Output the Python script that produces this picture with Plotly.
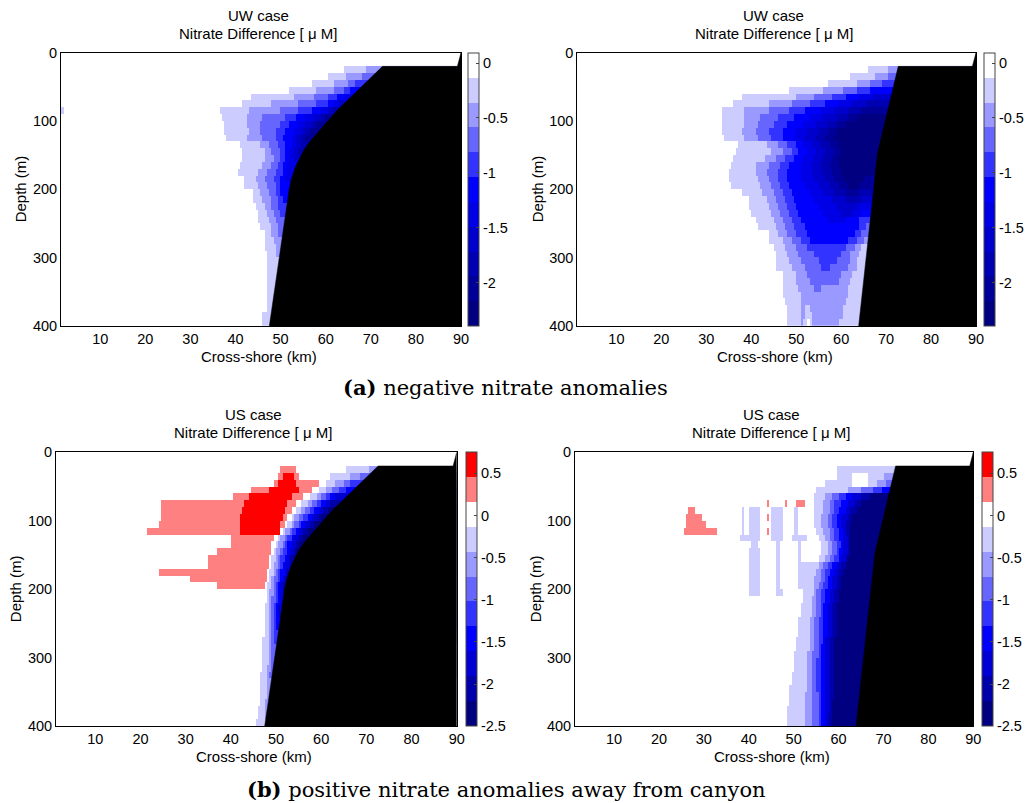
import numpy as np
import plotly.graph_objects as go

# ---------------- grid ----------------
X_CENTERS = np.arange(1.25, 90.0, 0.5)      # km
DEPTH_CENTERS = np.arange(5, 400, 10)       # m

# ---------------- colour bands ----------------
TOP_ZMIN, TOP_ZMAX = -2.39, 0.094
BOT_ZMIN, BOT_ZMAX = -2.5, 0.75
TOP_COLORS = ['#000080', '#000099', '#0000b3', '#0000cc', '#0000e6', '#0000ff',
              '#3333ff', '#6666ff', '#9999ff', '#ccccff', '#ffffff']
BOT_COLORS = ['#000080', '#0000aa', '#0000d4', '#0000ff', '#3333ff', '#6666ff',
              '#9999ff', '#ccccff', '#ffffff', '#ff8080', '#ff0000']
TOP_TICKS = [0, -0.5, -1, -1.5, -2]
TOP_TICKTEXT = ['0', '-0.5', '-1', '-1.5', '-2']
BOT_TICKS = [0.5, 0, -0.5, -1, -1.5, -2, -2.5]
BOT_TICKTEXT = ['0.5', '0', '-0.5', '-1', '-1.5', '-2', '-2.5']

# ---------------- bathymetry (x km, depth m) ----------------
BATHY_A_X = [47.5, 51.9, 52.4, 53.3, 54.2, 55.2, 56.5, 58.1, 60.2, 62.6, 72.6, 89.2, 90.0, 90.0]
BATHY_A_D = [400, 200, 185, 167, 155, 142, 130, 118, 102, 84, 20, 20, 0, 400]
BATHY_B_X = [63.9, 68.1, 72.7, 89.2, 90.0, 90.0]
BATHY_B_D = [400, 147, 20, 20, 0, 400]

# ---------------- anomaly bands read row by row ----------------
# "x:level" -> from x (km) eastward the band level; level 0 = white,
# 1.. = increasingly negative bands, -1 = pink, -2 = red
UW1_ROWS = {
    25: "64:1 69:2",
    35: "60.5:1 64.5:2 68:3",
    45: "57:1 62:2 65:3 66.5:4",
    55: "52:1 58:2 62:3 64:4 65.5:5",
    65: "43.5:1 53:2 57.5:3 60.5:4 62.5:5 64:6",
    75: "41.5:1 48:2 54:3 58:4 60.5:5 62:6 63:7",
    85: "1:1 2:0 36.7:1 43:2 50:3 54:4 57:5 59:6 60.5:7 61.5:8",
    95: "37:1 42.5:2 46:3 51:4 53.5:5 55.5:6 57.5:7 59:8 60:9",
    105: "37.4:1 42.5:2 45.5:3 50:4 52:5 54:6 55.5:7 57:8 58.2:9",
    115: "37.4:1 43:2 45.6:3 49:4 51:5 53:6 54.5:7 55.5:8 56.5:9",
    125: "37.8:1 42.5:2 46:3 49:4 50.7:5 52.3:6 53.6:7 54.6:8 55.6:9",
    135: "41.1:1 45.5:2 47.4:3 49.5:4 51:5 52.3:6 53.5:7 54.5:8",
    145: "41.3:1 46.3:2 48:3 49.8:4 51:5 52:6 53.2:7 54:8",
    155: "41.3:1 46.7:2 48.5:3 50:4 51:5 52.2:6 53.2:7",
    165: "41.1:1 46:2 47.8:3 49.5:4 50.6:5 51.7:6",
    175: "40.7:1 45.2:2 47:3 49:4 50.3:5 51.5:6",
    185: "41.9:1 44.4:2 46.7:3 48.5:4 50:5 51.2:6",
    195: "41.9:1 44.8:2 47:3 49:4 50.2:5",
    205: "44:1 45.6:2 47.4:3 49:4 50.2:5",
    215: "44:1 46:2 47.8:3 49.3:4 50.4:5",
    225: "44.4:1 46.7:2 48.1:3 49.6:4",
    235: "45.2:1 47:2 48.5:3 49.8:4",
    245: "45.2:1 47.4:2 49:3",
    255: "45.6:1 47.8:2 49.3:3",
    265: "46.3:1 48.1:2 49.5:3",
    275: "46.3:1 48.5:2",
    285: "46.7:1 49:2",
    295: "47:1 49.2:2",
    305: "47:1",
    315: "47.2:1",
    325: "47.2:1",
    335: "47.2:1",
    345: "47.2:1",
    355: "47.2:1",
    365: "47.2:1",
    375: "47.2:1",
    385: "46:1",
    395: "45.9:1",
}

UW2_ROWS = {
    25: "66:1 70.5:2",
    35: "62:1 67.5:2 70.5:3",
    45: "57:1 63.5:2 66.5:3 69:4",
    55: "48.3:1 56:2 60.5:3 63.5:4 66.5:5",
    65: "38.2:1 50:2 54:3 58:4 61:5 64:6 67:7",
    75: "36:1 44:2 49:3 53:4 56.5:5 59.5:6 62.5:7 65.5:8",
    85: "33.7:1 38.5:2 44:3 48.5:4 52:5 55.5:6 58.5:7 61.5:8 64.5:9",
    95: "33.7:1 38.5:2 42:3 46:4 49.5:5 53:6 56:7 59:8 61.5:9 63.5:10",
    105: "33.7:1 38.5:2 41.5:3 45:4 48:5 51.5:6 54.5:7 57:8 59:9 61:10",
    115: "33.7:1 38.2:2 41:3 44:4 47:5 50:6 52.5:7 55:8 57:9 59:10",
    125: "34:1 38.5:2 41.5:3 44.5:4 47:5 49.5:6 52:7 54.5:8 56.5:9 58.5:10",
    135: "37:1 43.5:2 46:3 48:4 49.8:5 51.5:6 53.5:7 55.5:8 57.5:9 59.5:10",
    145: "36.5:1 44.5:2 47:3 49:4 50.5:5 52.5:6 54.5:7 56.5:8 58.5:9 60:10",
    155: "36:1 43:2 45.5:3 47.5:4 49.5:5 51.5:6 54:7 56:8 58:9 59.5:10",
    165: "35.5:1 41.2:2 44:3 46.5:4 48.5:5 51:6 53.5:7 55.5:8 57.5:9 59.5:10",
    175: "35.2:1 41.2:2 43.5:3 46:4 48:5 51:6 53.5:7 56:8 58:9 60:10",
    185: "35.2:1 41.5:2 44:3 46:4 48:5 51:6 54:7 56.5:8 58.5:9 60.5:10 65:9",
    195: "35.5:1 42:2 44.5:3 46.5:4 48.5:5 52:6 55:7 57.5:8 59.5:9 61.5:10 64:9",
    205: "37.8:1 42.7:2 45:3 47:4 49:5 53:6 56:7 58.5:8 61:9 64:8",
    215: "39.5:1 43.5:2 45.5:3 47.5:4 49.5:5 54:6 58:7 61:8 64.5:7",
    225: "39.7:1 44:2 46:3 48:4 50:5 55:6 59:7 63.5:6",
    235: "40:1 44.5:2 46.5:3 48.5:4 50.5:5 56:6 60:7 62.5:6 64.5:5",
    245: "41:1 45:2 47:3 49:4 51:5 57:6 61:5 64:4",
    255: "41.5:1 45.6:2 47.5:3 49.5:4 52:5 64:4 65.5:3",
    265: "43.8:1 46:2 48:3 50:4 52.5:5 63:4 64.5:3",
    275: "43.8:1 47:2 49:3 51:4 53:5 61.5:4 63.5:3 65:2",
    285: "45:1 47.5:2 50:3 52.5:4 61:3 63:2 64.5:1",
    295: "45.6:1 48:2 50.5:3 54:4 60:3 62:2 64:1",
    305: "45.6:1 48.5:2 51:3 55:4 59:3 62:2 63.5:1",
    315: "45.6:1 49:2 52:3 55.5:4 57.5:3 61.5:2 63.5:1",
    325: "46.8:1 49.8:2 52.5:3 60:2 62.5:1",
    335: "46.8:1 50:2 53:3 59.5:2 62:1",
    345: "46.8:1 50.5:2 54:3 55.5:2 61.5:1",
    355: "47:1 51:2 61.5:1",
    365: "47.5:1 51:2 61:1",
    375: "47.9:1 51:2 52.2:1 53:2 60.5:1",
    385: "47.9:1 51:2 52:1 53.5:2 60.5:1",
    395: "47.9:1 51:2 51.7:1 52.5:0 53:1 53.5:2 59.5:1",
}

US1_ROWS = {
    25: "50.9:-1 54.5:0 65.5:1 70.5:2",
    35: "50.5:-1 51.5:-2 54:-1 55:0 62:1 66.5:2 68.5:3",
    45: "49.4:-1 50.5:-2 54.5:-1 59.4:0 61:1 63:2 65:3 66.5:4",
    55: "44.3:-1 48.5:-2 54.8:-1 58:0 59.5:1 61:2 62.5:3 64:4 65.5:5",
    65: "40.5:-1 44:-2 53.5:-1 56:0 57.5:1 59:2 60:3 61:4 62:5 63:6",
    75: "24.6:-1 43:-2 52.5:-1 54.5:0 55.5:1 57:2 58:3 59:4 60:5 61:6 62:7",
    85: "24.6:-1 42.5:-2 52:-1 53.5:0 54.5:1 55.5:2 56.5:3 57.5:4 58.5:5 59.5:6 60.5:7 61.5:8",
    95: "24.3:-1 42.2:-2 51.5:-1 52.5:0 53.3:1 54:2 55:3 56:4 57:5 58:6 59:7 60:8",
    105: "24:-1 42:-2 51:-1 51.8:0 52.5:1 53.3:2 54:3 54.8:4 55.5:5 56.5:6 57.5:7 58.5:8",
    115: "21.3:-1 42:-2 50.8:0 51.5:1 52.2:2 53:3 53.7:4 54.3:5 55:6 56:7 57:8",
    125: "39.8:-1 49.6:0 50.5:1 51.2:2 52:3 52.7:4 53.4:5 54.2:6 55:7 56:8",
    135: "39.8:-1 49.2:0 49.8:1 50.5:2 51.3:3 52:4 52.7:5 53.4:6 54.3:7 55:8",
    145: "37.2:-1 49:0 49.5:1 50.2:2 51:3 51.6:4 52.3:5 53:6 53.8:7 54.5:8",
    155: "35:-1 48.7:0 49.2:1 49.9:2 50.6:3 51.2:4 51.8:5 52.5:6 53.2:7 54:8",
    165: "35:-1 48.4:0 48.9:1 49.6:2 50.3:3 50.9:4 51.5:5 52.2:6 52.8:7 53.4:8",
    175: "24.2:-1 48.2:0 48.7:1 49.4:2 50:3 50.6:4 51.2:5 51.8:6 52.4:7 52.9:8",
    185: "31.2:-1 48:0 48.5:1 49.1:2 49.7:3 50.3:4 50.9:5 51.5:6 52:7",
    195: "36.8:-1 47.5:0 48.2:1 48.8:2 49.4:3 50:4 50.6:5 51.1:6 51.6:7",
    205: "47.9:1 48.7:2 49.3:3 49.9:4 50.5:5 51:6 51.4:7",
    215: "47.8:1 48.6:2 49.2:3 49.8:4 50.3:5 50.8:6",
    225: "47.7:1 48.5:2 49.1:3 49.6:4 50.1:5 50.6:6",
    235: "47.6:1 48.4:2 49:3 49.5:4 50:5 50.5:6",
    245: "47.5:1 48.3:2 48.9:3 49.4:4 49.9:5",
    255: "47.4:1 48.3:2 48.9:3 49.4:4 49.8:5",
    265: "47.3:1 48.3:2 48.9:3 49.4:4",
    275: "47.2:1 48.3:2 48.9:3 49.4:4",
    285: "47.1:1 48.4:2 49:3",
    295: "47:1 48.3:2 49:3",
    305: "46.9:1 48.3:2 48.9:3",
    315: "46.8:1 48.2:2 48.8:3",
    325: "46.7:1 48.1:2 48.7:3",
    335: "46.6:1 48:2",
    345: "46.5:1 47.9:2",
    355: "46.4:1 47.8:2",
    365: "46.3:1 47.7:2",
    375: "46.1:1 47.5:2",
    385: "45.9:1 47.4:2",
    395: "45.7:1",
}

US2_ROWS = {
    25: "59.5:1",
    35: "59.5:1 62.8:0 66.5:1 70:2",
    45: "57:1 63:0 66.5:1 68.5:2 70.5:3",
    55: "55:1 62:2 65:3 67.5:4 69.5:5",
    65: "54.5:1 57:2 58.5:3 60:4 61.5:5 63:6 65:7 67:8",
    75: "43.8:-1 44.5:0 48:-1 48.5:0 50.6:-1 52.4:0 54.3:1 56.5:2 58:3 59:4 60.5:5 62:6 63.5:7 65:8",
    85: "26.5:-1 28:0 38.5:1 39:0 40:1 42.4:0 45.1:1 47.3:0 49.9:1 51:0 54.3:1 56.5:2 57.8:3 58.8:4 60:5 61.5:6 62.5:7 64:8",
    95: "26:-1 29.5:0 38.5:1 39:0 40:1 42.4:0 43.8:-1 44.3:0 45.1:1 47.3:0 49.9:1 51:0 54.3:1 56.2:2 57.4:3 58.4:4 59.5:5 60.6:6 61.8:7 63:8",
    105: "26:-1 30.5:0 38.5:1 39:0 40:1 42.4:0 45.1:1 47.3:0 49.9:1 51:0 54.6:1 56.2:2 57.5:3 58.5:4 59.5:5 60.6:6 61.6:7 62.5:8",
    115: "25.7:-1 33.2:0 38.5:1 39:0 40:1 42.4:0 43.8:-1 44.3:0 45.1:1 47.3:0 49.9:1 51:0 55:1 56.6:2 57.8:3 58.8:4 59.8:5 60.8:6 61.6:7 62.4:8",
    125: "38.2:1 42.4:0 45:1 47.5:0 49.5:1 52.8:0 55.5:1 57:2 58.2:3 59.2:4 60.2:5 61:6 61.8:7 62.5:8",
    135: "40.5:1 41.8:0 46.2:1 46.9:0 50.8:1 51.7:0 56:1 57.5:2 58.7:3 59.6:4 60.5:5 61.2:6 62:7 62.7:8",
    145: "40.2:1 42.4:0 46.2:1 46.9:0 50.8:1 51.7:0 56:1 57.5:2 58.5:3 59.4:4 60.2:5 61:6 61.8:7 62.5:8",
    155: "40.2:1 42.4:0 46.2:1 46.9:0 50.8:1 51.7:0 55.5:1 57:2 58:3 59:4 59.8:5 60.6:6 61.4:7 62.2:8",
    165: "40.2:1 42.4:0 46.2:1 46.9:0 50.8:1 55.5:2 56.5:3 57.5:4 58.5:5 59.5:6 60.5:7 61.5:8",
    175: "40.2:1 42.4:0 46.2:1 46.9:0 50.8:1 55:2 56:3 57:4 58:5 59:6 60:7 61:8",
    185: "40.2:1 42.4:0 46.2:1 46.9:0 51:1 54.7:2 55.8:3 56.8:4 57.7:5 58.7:6 59.7:7 60.7:8",
    195: "40.2:1 42.4:0 46:1 47:0 51.2:1 54.5:2 55.5:3 56.5:4 57.3:5 58.3:6 59.3:7 60.3:8",
    205: "40.2:1 42.6:0 46:1 47.3:0 52:1 54.3:2 55.2:3 56.2:4 57:5 58:6 59:7 60:8",
    215: "51.8:1 54:2 55:3 56:4 56.8:5 57.8:6 58.8:7 59.8:8",
    225: "51.6:1 53.9:2 54.9:3 55.9:4 56.7:5 57.7:6 58.7:7 59.7:8",
    235: "51.4:1 53.8:2 54.8:3 55.8:4 56.6:5 57.6:6 58.6:7 59.6:8",
    245: "51.2:1 53.7:2 54.7:3 55.7:4 56.6:5 57.5:6 58.5:7 59.5:8",
    255: "51:1 53.6:2 54.6:3 55.6:4 56.5:5 57.4:6 58.4:7 59.4:8",
    265: "50.8:1 53.5:2 54.5:3 55.5:4 56.4:5 57.3:6 58.3:7 59.3:8",
    275: "50.6:1 53.4:2 54.4:3 55.4:4 56.3:5 57.2:6 58.2:7 59.2:8",
    285: "50.4:1 53.3:2 54.3:3 55.4:4 56.2:5 57.2:6 58.2:7 59.1:8",
    295: "50.2:1 53.2:2 54.2:3 55.3:4 56.2:5 57.1:6 58.1:7 59:8",
    305: "50:1 53.1:2 54.1:3 55.2:4 56.1:5 57:6 58:7 59:8",
    315: "49.8:1 53:2 54.1:3 55.2:4 56.1:5 57:6 58:7 59:8",
    325: "49.6:1 52.9:2 54:3 55.2:4 56:5 57:6 57.9:7 58.9:8",
    335: "49.4:1 52.8:2 54:3 55.2:4 56:5 56.9:6 57.9:7 58.9:8",
    345: "49.2:1 52.8:2 54:3 55.2:4 56:5 56.9:6 57.8:7 58.8:8",
    355: "49:1 52.7:2 54:3 55.3:4 56:5 56.9:6 57.8:7 58.8:8",
    365: "48.9:1 52.6:2 53.9:3 55.3:4 56:5 56.9:6 57.8:7 58.7:8",
    375: "48.7:1 52.5:2 53.9:3 55.3:4 56:5 56.9:6 57.8:7 58.7:8",
    385: "48.5:1 52.5:2 53.9:3 55.4:4 56:5 56.9:6 57.7:7 58.7:8",
    395: "48.4:1 52.4:2 53.9:3 55.4:4 56:5 56.9:6 57.7:7 58.7:8",
}

W, H = 1025, 803
FONT = "Liberation Sans, Arial, Helvetica, sans-serif"


def levels(rows):
    z = np.zeros((len(DEPTH_CENTERS), len(X_CENTERS)))
    for i, d in enumerate(DEPTH_CENTERS):
        for tok in rows.get(int(d), "").split():
            xs, lv = tok.split(":")
            z[i, X_CENTERS >= float(xs)] = float(lv)
    return z


def top_values(lv):
    w = (TOP_ZMAX - TOP_ZMIN) / 11
    return TOP_ZMAX - (lv + 0.5) * w


def bot_values(lv):
    w = (BOT_ZMAX - BOT_ZMIN) / 11
    return BOT_ZMAX - (lv + 2.5) * w


def discrete(colors):
    n = len(colors)
    cs = []
    for i, c in enumerate(colors):
        cs.append([i / n, c])
        cs.append([(i + 1) / n, c])
    return cs


PANELS = [
    dict(px=(61, 461), py=(52.7, 326), cb=468, rows=UW1_ROWS, top=True, bx=BATHY_A_X, bd=BATHY_A_D,
         title="UW case", ylab_x=20),
    dict(px=(577.3, 976), py=(52.7, 326), cb=984.3, rows=UW2_ROWS, top=True, bx=BATHY_B_X, bd=BATHY_B_D,
         title="UW case", ylab_x=537),
    dict(px=(56, 456.7), py=(452.3, 726), cb=465.7, rows=US1_ROWS, top=False, bx=BATHY_A_X, bd=BATHY_A_D,
         title="US case", ylab_x=15),
    dict(px=(575, 973.3), py=(452.3, 726), cb=982.3, rows=US2_ROWS, top=False, bx=BATHY_B_X, bd=BATHY_B_D,
         title="US case", ylab_x=535),
]

fig = go.Figure()
annotations = []
layout_axes = {}
for k, p in enumerate(PANELS, start=1):
    xa = "x" if k == 1 else f"x{k}"
    ya = "y" if k == 1 else f"y{k}"
    lv = levels(p["rows"])
    if p["top"]:
        z = top_values(lv)
        zmin, zmax, cols, tv, tt = TOP_ZMIN, TOP_ZMAX, TOP_COLORS, TOP_TICKS, TOP_TICKTEXT
    else:
        z = bot_values(lv)
        zmin, zmax, cols, tv, tt = BOT_ZMIN, BOT_ZMAX, BOT_COLORS, BOT_TICKS, BOT_TICKTEXT
    ytop = 1 - p["py"][0] / H
    ybot = 1 - p["py"][1] / H
    fig.add_trace(go.Heatmap(
        x=X_CENTERS, y=DEPTH_CENTERS, z=z, xaxis=xa, yaxis=ya,
        zmin=zmin, zmax=zmax, colorscale=discrete(cols), hoverinfo="skip",
        colorbar=dict(x=p["cb"] / W, xanchor="left", y=ytop, yanchor="top",
                      len=ytop - ybot, lenmode="fraction", thickness=11,
                      xpad=0, ypad=0, outlinewidth=1, outlinecolor="#444",
                      tickvals=tv, ticktext=tt, ticks="inside", ticklen=3,
                      tickcolor="#444", tickfont=dict(family=FONT, size=14.5, color="black")),
    ))
    fig.add_trace(go.Scatter(
        x=p["bx"], y=p["bd"], xaxis=xa, yaxis=ya, mode="lines", fill="toself",
        fillcolor="black", line=dict(color="black", width=0.5), hoverinfo="skip",
        showlegend=False))
    axcommon = dict(showline=True, mirror=True, linecolor="black", linewidth=1,
                    showgrid=False, zeroline=False, ticks="",
                    tickfont=dict(family=FONT, size=14.5, color="black"))
    layout_axes["xaxis" if k == 1 else f"xaxis{k}"] = dict(
        domain=[p["px"][0] / W, p["px"][1] / W], anchor=ya, range=[1.3, 90],
        tickvals=[10, 20, 30, 40, 50, 60, 70, 80, 90], **axcommon)
    layout_axes["yaxis" if k == 1 else f"yaxis{k}"] = dict(
        domain=[ybot, ytop], anchor=xa, range=[400, 0],
        tickvals=[0, 100, 200, 300, 400], **axcommon)
    cx = (p["px"][0] + p["px"][1]) / 2
    t0 = p["py"][0]
    annotations += [
        dict(x=(cx - 3) / W, y=1 - (t0 - 37.5) / H, xref="paper", yref="paper",
             text=p["title"], showarrow=False, xanchor="center", yanchor="middle",
             font=dict(family=FONT, size=15, color="black")),
        dict(x=(cx - 3) / W, y=1 - (t0 - 19.5) / H, xref="paper", yref="paper",
             text="Nitrate Difference [ μ M]", showarrow=False, xanchor="center",
             yanchor="middle", font=dict(family=FONT, size=15, color="black")),
        dict(x=(cx - 2) / W, y=1 - (p["py"][1] + 30) / H, xref="paper", yref="paper",
             text="Cross-shore (km)", showarrow=False, xanchor="center", yanchor="middle",
             font=dict(family=FONT, size=15, color="black")),
        dict(x=p["ylab_x"] / W, y=1 - ((p["py"][0] + p["py"][1]) / 2) / H, xref="paper",
             yref="paper", text="Depth (m)", showarrow=False, textangle=-90,
             xanchor="center", yanchor="middle",
             font=dict(family=FONT, size=15, color="black")),
    ]

SERIF = "DejaVu Serif, Liberation Serif, serif"
annotations += [
    dict(x=505.5 / W, y=1 - 388 / H, xref="paper", yref="paper",
         text="<b>(a)</b> negative nitrate anomalies", showarrow=False,
         xanchor="center", yanchor="middle", font=dict(family=SERIF, size=21, color="black")),
    dict(x=506.5 / W, y=1 - 789 / H, xref="paper", yref="paper",
         text="<b>(b)</b> positive nitrate anomalies away from canyon", showarrow=False,
         xanchor="center", yanchor="middle", font=dict(family=SERIF, size=21, color="black")),
]

fig.update_layout(width=W, height=H,
                  margin=dict(l=0, r=0, t=0, b=0, pad=0, autoexpand=False),
                  paper_bgcolor="white", plot_bgcolor="white", showlegend=False,
                  annotations=annotations, **layout_axes)
fig.write_html("out.html", config={"displayModeBar": False, "staticPlot": True},
               post_script="document.body.style.margin='0px';document.body.style.overflow='hidden';")
